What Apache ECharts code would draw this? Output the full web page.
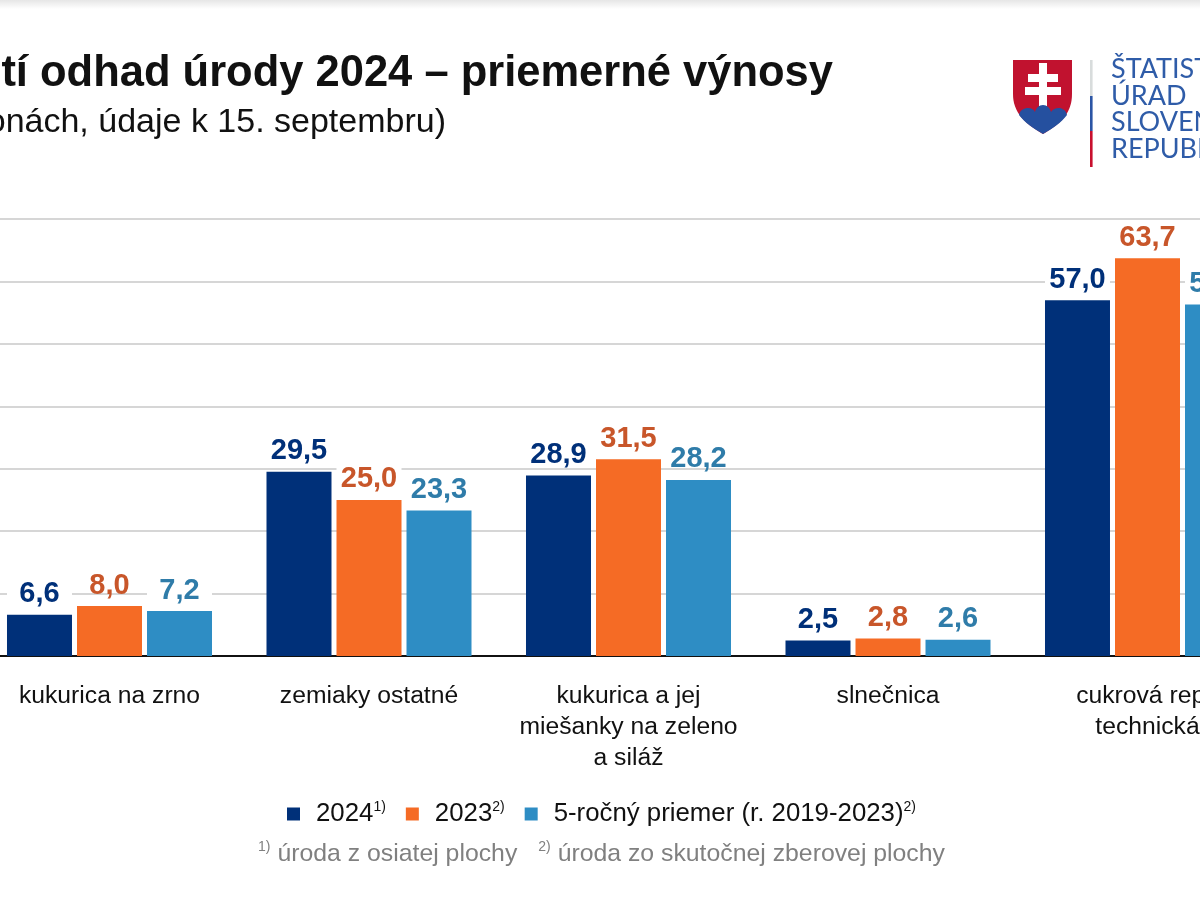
<!DOCTYPE html>
<html><head><meta charset="utf-8">
<style>html,body{margin:0;padding:0;background:#fff}#c{width:1200px;height:900px;overflow:hidden}</style>
<script src="https://cdn.jsdelivr.net/npm/echarts@6/dist/echarts.min.js"></script>
</head><body><div id="c"></div>
<script>
const categories = ['kukurica na zrno','zemiaky ostatné','kukurica a jej\nmiešanky na zeleno\na siláž','slnečnica','cukrová repa\ntechnická'];
const values2024 = [6.6,29.5,28.9,2.5,57.0];
const values2023 = [8.0,25.0,31.5,2.8,63.7];
const valuesAvg = [7.2,23.3,28.2,2.6,56.3];
const seriesNames = ['2024','2023','5-ročný priemer (r. 2019-2023)'];
const seriesNotes = ['1)','2)','2)'];
const barColors = ['#003079','#f56b25','#2e8dc4'];
const labelColors = ['#003079','#c8562a','#2f7ca9'];
const titleText = 'tí odhad úrody 2024 – priemerné výnosy';
const subtitleText = 'onách, údaje k 15. septembru)';
const logoLines = ['ŠTATIST','ÚRAD','SLOVEN','REPUBL'];
const FONT = '"Liberation Sans", Arial, sans-serif';
const reg = (n,d)=>echarts.graphic.registerShape(n, echarts.graphic.extendPath(d,{}));
reg('shield','M1013 60H1072V94C1072 112 1062 123 1043 134C1024 123 1013 112 1013 94Z');
reg('hills','M1019 115C1020 110 1024 108 1028 108C1032 108 1034 110 1035 112C1036 108 1039 105 1043 105C1047 105 1050 108 1051 112C1052 110 1055 108 1059 108C1062 108 1066 110 1067 115C1061 123 1053 128 1043 134C1033 128 1025 123 1019 115Z');
reg('cross','M1039 63H1047V74H1058V82H1047V87H1061V95H1047V106H1039V95H1025V87H1039V82H1028V74H1039Z');
const chart = echarts.init(document.getElementById('c'), null, {renderer:'canvas'});
const mk = (i, data) => ({
  name: seriesNames[i], type:'bar', data, barWidth:65, barGap:'7.7%',
  itemStyle:{color:barColors[i]},
  label:{show:true, position:'top', distance:13, color:labelColors[i], fontFamily:FONT, fontWeight:'bold', fontSize:29,
    width:65, align:'center', lineHeight:15, padding:[4,0,0,0], backgroundColor:'#fff',
    formatter:p=>p.value.toFixed(1).replace('.',',')}
});
const logoText = logoLines.map((t,i)=>({type:'text', x:1111, y:56+i*26.6,
  style:{text:t, fontFamily:'Lato, sans-serif', fontSize:27, fill:'#2f5ca8'}}));
chart.setOption({
  animation:false, backgroundColor:'#fff',
  title:[
    {text:titleText, right:362, top:47, textStyle:{fontFamily:FONT,fontWeight:'bold',fontSize:43.5,color:'#111'}},
    {text:subtitleText, right:749, top:101, textStyle:{fontFamily:FONT,fontWeight:'normal',fontSize:34,color:'#111'}},
    {text:'{s|1)} {t|úroda z osiatej plochy}{g| }{s|2)} {t|úroda zo skutočnej zberovej plochy}', left:253, top:835,
      textStyle:{fontWeight:'normal',rich:{t:{fontFamily:FONT,fontWeight:'normal',fontSize:24.8,color:'#808080'},g:{fontFamily:FONT,fontSize:24.8,padding:[0,0,0,14]},s:{fontFamily:FONT,fontWeight:'normal',fontSize:14,color:'#808080',verticalAlign:'top',lineHeight:28,padding:[0,2,0,0]}}}}
  ],
  grid:{left:-20.25,width:1297.5,top:219,height:437,containLabel:false,outerBoundsMode:'none'},
  legend:{left:282, top:795, itemWidth:13, itemHeight:13, itemGap:20, icon:'rect',
    data:seriesNames,
    formatter:n=>`{t|${n}}{s|${seriesNotes[seriesNames.indexOf(n)]}}`,
    textStyle:{rich:{t:{fontFamily:FONT,fontSize:25.8,color:'#111',padding:[0,0,0,11]},s:{fontFamily:FONT,fontSize:14,color:'#111',verticalAlign:'top',lineHeight:28}}}
  },
  xAxis:{type:'category',data:categories,axisTick:{show:false},
    axisLine:{lineStyle:{color:'#111',width:2}},
    axisLabel:{interval:0,margin:25,color:'#111',fontFamily:FONT,fontSize:24.7,lineHeight:31,hideOverlap:false}},
  yAxis:{type:'value',min:0,max:70,interval:10,axisLabel:{show:false},axisLine:{show:false},axisTick:{show:false},
    splitLine:{lineStyle:{color:'#c8c8c8',width:1.5}}},
  series:[mk(0,values2024),mk(1,values2023),mk(2,valuesAvg)],
  graphic:[
    {type:'rect',shape:{x:0,y:0,width:1200,height:9},silent:true,style:{fill:new echarts.graphic.LinearGradient(0,0,0,1,[{offset:0,color:'#e6e6e6'},{offset:1,color:'#ffffff'}])}},
    {type:'shield',style:{fill:'#c1122f'}},
    {type:'cross',style:{fill:'#fff'}},
    {type:'hills',style:{fill:'#25509f'}},
    {type:'rect',shape:{x:1090,y:60,width:2.6,height:36},style:{fill:'#d8dcdc'}},
    {type:'rect',shape:{x:1090,y:96,width:2.6,height:35},style:{fill:'#2b55a5'}},
    {type:'rect',shape:{x:1090,y:131,width:2.6,height:36},style:{fill:'#c8102e'}},
    ...logoText
  ]
});
</script></body></html>
